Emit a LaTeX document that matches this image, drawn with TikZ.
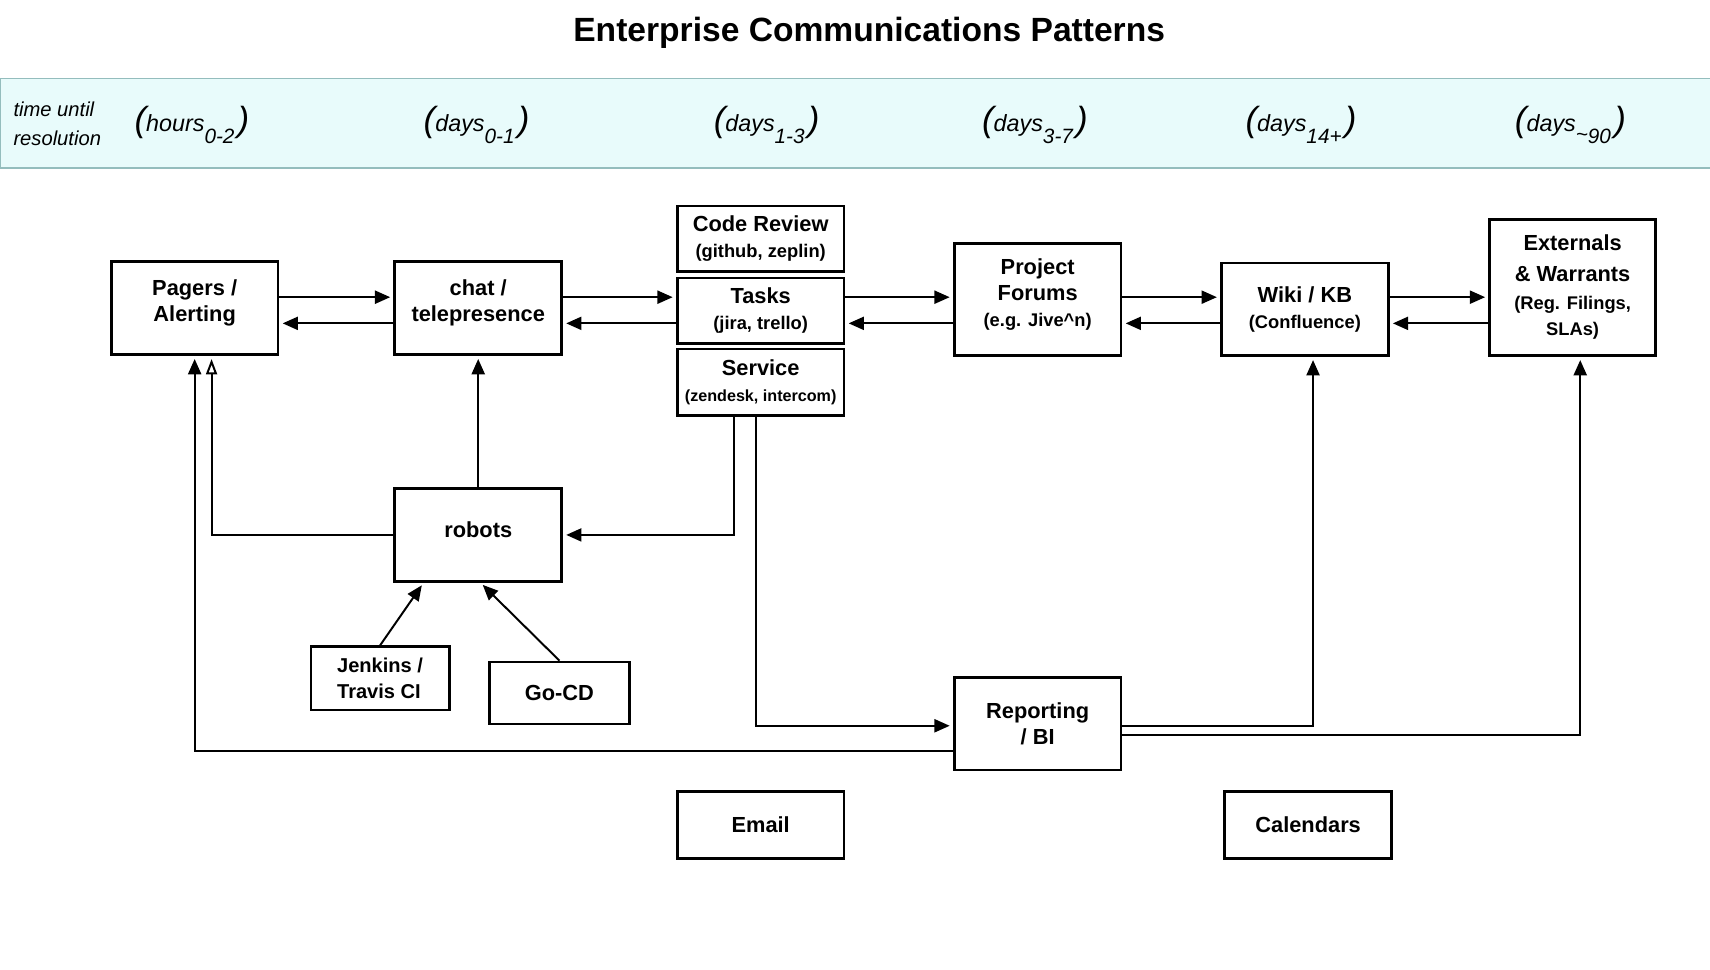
\documentclass[tikz,border=0pt]{standalone}
\usepackage{fontspec}
\setmainfont{Liberation Sans}
\usetikzlibrary{arrows.meta}

\definecolor{bandfill}{HTML}{E8FBFB}
\definecolor{bandline}{HTML}{94BDBD}

\newcommand{\detail}[1]{{\fontsize{8.4}{10}\selectfont #1}}
\newcommand{\waittime}[2]{{\fontsize{16}{16}\selectfont(}#1\raisebox{-5.5pt}{\fontsize{9.5}{9.5}\selectfont #2}\kern1.5pt{\fontsize{16}{16}\selectfont)}}

\begin{document}
\begin{tikzpicture}[x=0.5pt,y=-0.5pt,
    box/.style={draw, line width=1.2pt, minimum width=76.5pt, minimum height=42.5pt, inner sep=0pt,
        align=center, font=\fontsize{10}{12}\bfseries\selectfont},
    link/.style={line width=0.9pt, shorten >=1.5pt, -{Triangle[length=7pt,width=6pt]}},
    openlink/.style={line width=0.9pt, shorten >=1.5pt, -{Triangle[open,length=7pt,width=5pt]}},
    span/.style={anchor=base, font=\fontsize{10.7}{12}\itshape\selectfont}]
    \useasboundingbox (0,0) rectangle (1568,889);

    % title and time band
    \node[font=\fontsize{15.4}{18}\bfseries\selectfont] (title) at (797,30) {Enterprise Communications Patterns};
    \draw[bandline, fill=bandfill, line width=0.6pt] (0.6,72) rectangle (1580,154);
    \node[anchor=base west, inner sep=0pt, align=left, font=\fontsize{9.25}{13}\itshape\selectfont] (until) at (12,133) {time until\\resolution};
    \node[span] (t1) at (176,121) {\waittime{hours}{0-2}};
    \node[span] (t2) at (437,121) {\waittime{days}{0-1}};
    \node[span] (t3) at (703,121) {\waittime{days}{1-3}};
    \node[span] (t4) at (949,121) {\waittime{days}{3-7}};
    \node[span] (t5) at (1193,121) {\waittime{days}{14+}};
    \node[span] (t6) at (1440,121) {\waittime{days}{\raisebox{0.2ex}{\textasciitilde}90}};

    % boxes
    \node[box, text depth=7pt] (pagers) at (178.5,282.5) {Pagers /\\Alerting};
    \node[box, text depth=7pt] (chat) at (438.5,282.5) {chat /\\telepresence};
    \node[box, minimum height=30pt] (review) at (697.5,219) {Code Review\\\detail{(github, zeplin)}};
    \node[box, minimum height=30pt] (tasks) at (697.5,285) {Tasks\\\detail{(jira, trello)}};
    \node[box, minimum height=30.5pt] (service) at (697.5,350.5) {Service\\{\fontsize{7.4}{9}\selectfont(zendesk, intercom)}};
    \node[box, minimum height=51.5pt, text depth=6pt] (forums) at (951.5,274.5) {Project\\Forums\\\detail{(e.g. Jive\textasciicircum n)}};
    \node[box] (wiki) at (1196.5,283.5) {Wiki / KB\\\detail{(Confluence)}};
    \node[box, minimum width=76pt, minimum height=62.5pt] (externals) at (1442,263.5)
        {Externals\\[2pt]\& Warrants\\[1pt]\detail{(Reg. Filings,}\\\detail{SLAs)}};
    \node[box, text depth=5pt] (robots) at (438.5,490.5) {robots};
    \node[box, minimum width=63.5pt, minimum height=29pt, align=left, font=\fontsize{9.2}{12}\bfseries\selectfont] (jenkins) at (348.5,622) {Jenkins /\\Travis CI};
    \node[box, minimum width=64pt, minimum height=28.5pt] (gocd) at (513,635.5) {Go-CD};
    \node[box] (reporting) at (951.5,663.5) {Reporting\\/ BI};
    \node[box, minimum height=30.5pt] (email) at (697.5,756.5) {Email};
    \node[box, minimum height=30.5pt] (calendars) at (1199.5,756.5) {Calendars};

    % rows and columns for the connectors
    \coordinate (fwd) at (0,272.5);
    \coordinate (back) at (0,296.5);
    \coordinate (botx) at (194,0);
    \coordinate (svcl) at (673,0);
    \coordinate (svcr) at (693,0);
    \coordinate (wikix) at (1204,0);
    \coordinate (extx) at (1449,0);
    \coordinate (midrun) at (0,665.5);
    \coordinate (extrun) at (0,674);
    \coordinate (lowrun) at (0,689);

    % the chain, both ways
    \draw[link] (pagers.east |- fwd) -- (chat.west |- fwd);
    \draw[link] (chat.west |- back) -- (pagers.east |- back);
    \draw[link] (chat.east |- fwd) -- (tasks.west |- fwd);
    \draw[link] (tasks.west |- back) -- (chat.east |- back);
    \draw[link] (tasks.east |- fwd) -- (forums.west |- fwd);
    \draw[link] (forums.west |- back) -- (tasks.east |- back);
    \draw[link] (forums.east |- fwd) -- (wiki.west |- fwd);
    \draw[link] (wiki.west |- back) -- (forums.east |- back);
    \draw[link] (wiki.east |- fwd) -- (externals.west |- fwd);
    \draw[link] (externals.west |- back) -- (wiki.east |- back);

    % robots
    \draw[link] (robots.north) -- (chat.south);
    \draw[openlink] (robots.west) -| (botx |- pagers.south);
    \draw[link] (svcl |- service.south) |- (robots.east);
    \draw[link] (jenkins.north) -- ([xshift=-25pt]robots.south);
    \draw[link] (gocd.north) -- ([xshift=1pt]robots.south);

    % reporting
    \draw[link] (svcr |- service.south) |- (reporting.west |- midrun);
    \draw[link] (reporting.west |- lowrun) -| (pagers.south);
    \draw[link] (reporting.east |- midrun) -| (wikix |- wiki.south);
    \draw[link] (reporting.east |- extrun) -| (extx |- externals.south);
\end{tikzpicture}
\end{document}
